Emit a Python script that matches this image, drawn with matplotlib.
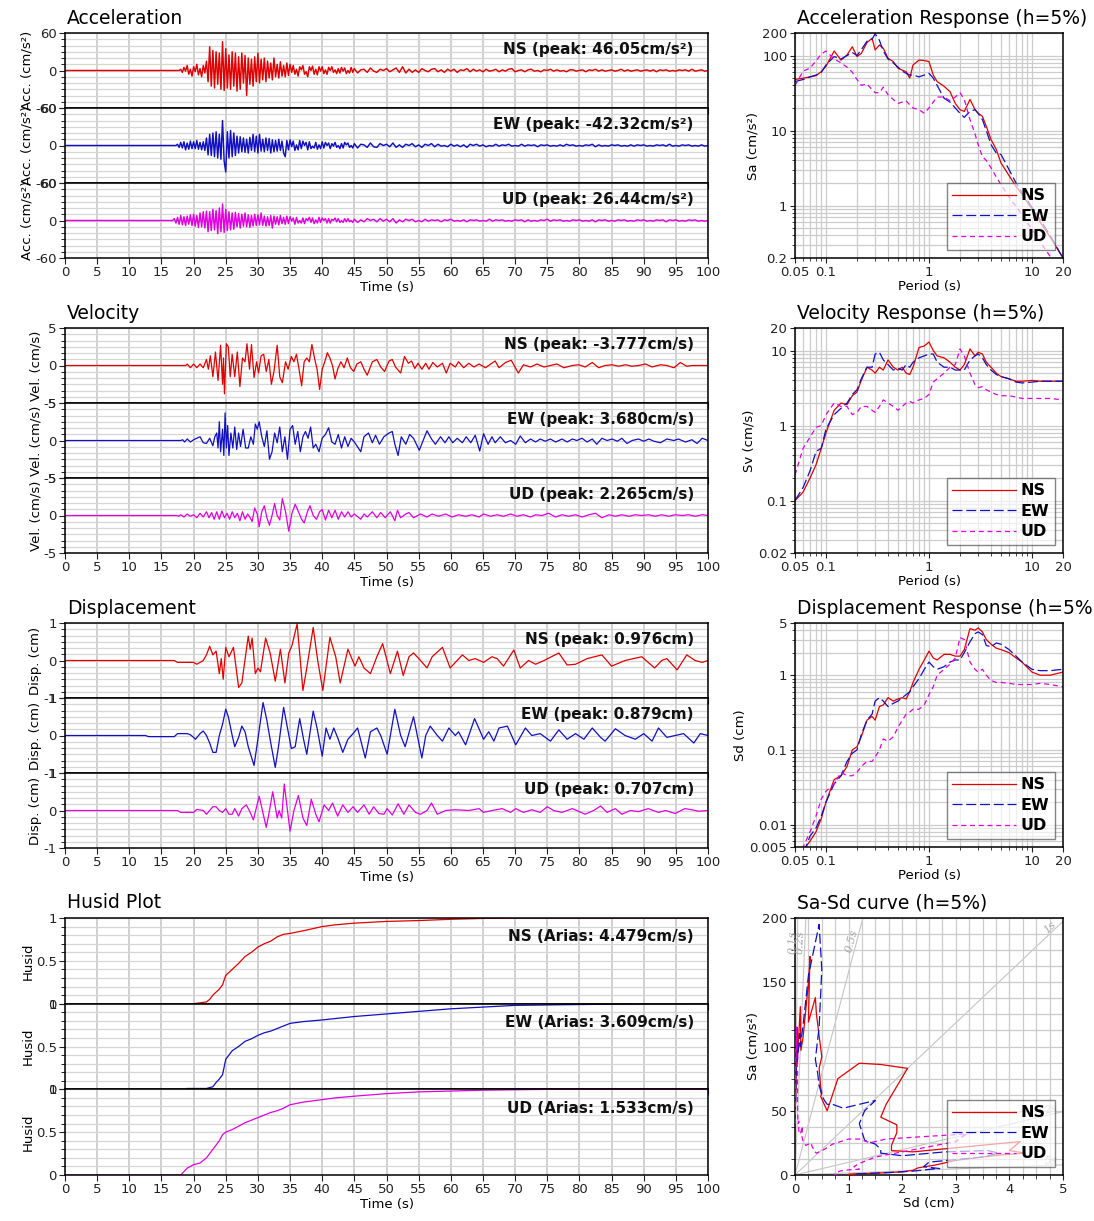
import numpy as np
import matplotlib.pyplot as plt
from matplotlib.ticker import MultipleLocator, NullFormatter

plt.rcParams['font.family'] = ['DejaVu Sans']
plt.rcParams['axes.unicode_minus'] = False

# ---------------------------------------------------------------- data
comp_names = ['NS', 'EW', 'UD']

# acceleration (cm/s2): strong part every 0.25 s from 17 s, coda every 0.5 s from 45 s
acc_ns_strong = [0, 0, 0, 0, 2, -3, 5, -1, 8, -6, 2, -9, 6, -2, 10, -7,
                 3, -10, 8, -4, 15, -18, 38, -25, 32, -28, 30, -22, 28, -30, 46.05, -32,
                 35, -28, 25, -30, 30, -25, 28, -33, 22, -30, 28, -20, 24, -40, 20, -22,
                 18, -25, 22, -18, 28, -20, 18, -15, 20, -18, 15, -12, 12, -15, 20, -10,
                 10, -12, 14, -9, 8, -10, 12, -8, 10, -3, 8, -6, 2, -9, 6, 1,
                 8, -6, -2, -10, 6, 0, 7, -6, 2, -7, 6, -1, 6, -5, 1, -6,
                 5, 0, 6, -3, 1, -5, 3, -4, 5, -1, 4, -5, 0, -4, 5, -3]
acc_ns_coda = [3, -4, 1, 2, -3, 4, -1, -3, 2, 0, 3, -2, 1, 4, -3, 6, -4, 2, -3, 1,
               -3, 3, 0, -2, 2, 3, -2, 1, -3, 2, -1, 2, -3, 1, 0, 3, -2, 2, -1, 1,
               -2, 2, -1, 0, 2, -2, 1, -1, 2, 3, -2, 0, 1, -2, 1, 2, -1, 0, -2, 1,
               0, 2, -1, 1, -1, 0, -2, 1, 1, -1, 0, 1, -2, 1, 0, 2, -1, 1, -1, 0,
               1, -1, 0, 2, -1, 1, -1, 0, 1, -1, 0, 1, -1, 1, -2, 1, 0, 1, -1, 0,
               -1, 1, 0, 1, -1, 2, -1, 0, 1, -1, 0]
acc_ew_strong = [0, 0, 2, -3, 5, -4, 6, -7, 4, -6, 7, -5, 6, -5, 8, -6,
                 5, -7, 6, -8, 12, -15, 18, -16, 20, -18, 22, -20, 18, -22, 40, -25,
                 -42.32, 22, -20, 24, -18, 20, -16, 15, -12, 14, -10, 12, -11, 10, -12, 13,
                 -8, 18, -10, 15, -12, 18, -9, 10, -10, 12, -8, 11, -12, 9, -10, 8,
                 -9, 10, -8, 7, -12, -18, 8, -7, 9, -2, 7, -8, 1, -7, 8, -5,
                 7, 0, 5, -7, 6, -5, -1, -4, 5, -6, 1, -5, 6, -4, 5, 0,
                 4, -5, 3, -1, 5, -3, 0, -5, 3, -4, 5, 1, 4, -3, 0, -4]
acc_ew_coda = [3, -4, 2, 1, -3, 4, -2, -3, 3, 0, 2, -2, 4, -3, 1, -3, 2, 0, 3, -2,
               1, -3, 2, 0, 3, -2, 2, -1, 0, -2, 2, -1, 1, -2, 1, -3, 2, 0, 2, -1,
               1, -2, 0, -1, 2, -1, 1, 0, 2, -1, 0, -1, 2, -1, 1, 0, 1, -2, 1, 0,
               1, -1, 0, -1, 1, -1, 2, 0, 1, -1, 0, -1, 1, 0, 2, -2, 1, -1, 0, -1,
               1, 0, 1, -1, 0, -1, 1, -1, 1, 0, 1, -1, 0, -1, 1, 0, 1, -1, 2, -1,
               0, -1, 1, 0, 1, -1, 0, -1, 1, -1, 0]
acc_ud_strong = [3, -4, 5, -6, 8, -7, 6, -8, 7, -6, 9, -8, 10, -9, 8, -11,
                 12, -10, 14, -12, 15, -18, 14, -16, 18, -15, 16, -21, 20, -18, 26.44, -19,
                 18, -16, 14, -15, 12, -14, 13, -10, 11, -12, 10, -9, 12, -10, 9, -11,
                 8, -9, 10, -8, 9, -7, 12, -8, 7, -9, 6, -8, 8, -12, 7, -6,
                 6, -7, 8, -5, 5, -6, 7, -5, 6, -1, 4, -6, 5, -4, 0, -4,
                 4, -5, 3, 0, 5, -3, 4, -5, 1, -4, 5, -3, 4, 0, 3, -4,
                 3, -4, 2, 0, 4, -2, 3, -3, 0, -3, 3, -2, 3, -2, 0, -3]
acc_ud_coda = [2, -3, 1, -2, 3, 0, 2, -2, 3, -1, 2, -2, 3, -4, 1, -2, 2, 0, 2, -2,
               0, -2, 2, -1, 1, 0, 1, -2, 1, 0, 2, -1, 0, -1, 1, -2, 1, 0, 1, -1,
               0, -1, 2, -1, 1, 0, 1, -1, 0, -1, 1, 0, 1, -2, 1, -1, 0, -1, 1, 0,
               2, -1, 1, 0, 1, -1, 0, -1, 1, 0, 1, -1, 0, -1, 1, -2, 1, 0, 1, -1,
               0, -1, 1, 0, 1, -1, 0, -1, 1, 0, 1, -1, 0, -1, 1, 0, 1, -2, 1, 0,
               1, -1, 0, -1, 1, 0, 1, -1, 0, -1, 0]

# velocity (cm/s) as (time, value) turning points
vel_ns = [(0, 0), (18.8, 0), (19, 0.2), (19.5, -0.3), (20, 0.2), (20.5, -0.3), (21, 0.2), (21.5, -0.3),
          (22, 0.8), (22.3, -0.5), (22.6, 1.3), (23, -1.5), (23.4, 1.8), (23.8, -2.0), (24.2, 2.7),
          (24.5, -2.5), (24.65, 1.0), (24.8, -3.777), (25.1, 2.9), (25.4, 2.5), (25.7, -1.5), (26.0, 1.5),
          (26.4, -1.5), (26.8, 1.8), (27.2, -2.8), (27.6, 1.0), (28.0, 0.5), (28.3, 2.9), (28.7, -0.5),
          (29.0, 2.8), (29.4, -1.6), (29.8, 0.5), (30.1, -1.0), (30.5, 1.3), (30.9, 1.5), (31.3, -0.8),
          (31.7, 0.8), (32.1, -2.5), (32.5, -0.8), (33.0, 2.7), (33.4, -1.5), (33.8, -2.3), (34.3, 0.5),
          (34.7, -0.5), (35.2, 1.2), (35.6, 0.5), (36.0, 1.5), (36.4, -0.5), (36.8, -2.7), (37.2, 0.5),
          (37.6, 1.0), (38.0, 0.5), (38.4, 2.8), (38.8, 1.0), (39.2, -0.5), (39.6, -3.2), (40.0, -0.5),
          (40.4, 0.5), (40.8, 1.7), (41.2, 1.0), (41.6, 0.0), (42.0, -1.8), (42.4, -0.5), (42.9, 0.5),
          (43.4, -0.3), (43.9, 1.0), (44.4, -0.3), (44.9, -0.8), (45.4, 0.2), (46.0, 0.5), (46.5, -0.5),
          (47.0, -1.3), (47.8, 0.5), (48.5, 0.8), (49.1, -0.2), (49.7, -0.8), (50.4, 0.6), (50.9, 0.8),
          (51.4, -0.2), (52.2, -1.0), (52.8, 1.2), (53.4, 0.3), (53.9, 0.6), (54.4, -0.4), (54.9, 0.3),
          (55.5, -0.5), (56.1, 0.3), (56.6, -0.5), (57.2, 0.4), (57.9, -0.2), (58.7, 0.3), (59.3, -1.0),
          (59.9, 0.3), (60.7, -0.2), (61.2, 0.5), (62.0, -0.3), (62.8, 0.3), (63.6, -0.2), (64.4, 0.2),
          (65.4, -0.3), (66.2, 0.2), (66.9, 0.6), (67.5, -0.3), (68.5, 0.4), (69.4, 0.7), (70.5, -1.0),
          (71.3, 0.1), (72.4, -0.2), (73.4, 0.2), (74.5, -0.2), (75.5, 0.0), (76.5, 0.2), (77.6, -0.3),
          (78.9, 0.0), (79.9, 0.1), (80.9, -0.2), (82.0, 0.4), (83.0, -0.3), (84.0, 0.0), (85.1, 0.1),
          (86.1, -0.1), (87.2, 0.1), (88.2, -0.1), (89.2, 0.0), (90.3, 0.2), (91.3, -0.2), (92.6, 0.1),
          (93.6, 0.0), (94.7, -0.3), (95.7, 0.4), (96.7, -0.1), (97.5, 0.0), (100, 0.0)]
vel_ew = [(0, 0), (18, 0), (18.3, 0.1), (18.6, -0.2), (19, 0.2), (19.5, -0.2), (20, 0.1), (20.5, 0.3),
          (21, 0.5), (21.5, -0.3), (22, -0.4), (22.5, 0.3), (23, -0.7), (23.3, 0.5), (23.6, 1.0),
          (23.8, -1.0), (24.0, 2.5), (24.2, -1.5), (24.5, 1.5), (24.7, -2.0), (24.9, 3.68), (25.1, -1.0),
          (25.3, 2.0), (25.5, -2.0), (25.8, 1.0), (26.1, -1.0), (26.4, 1.8), (26.7, -1.2), (27.0, 1.0),
          (27.3, -0.8), (27.7, 1.5), (28.1, -1.0), (28.5, -1.0), (28.9, 0.5), (29.3, -0.5), (29.6, 2.2),
          (29.9, 1.5), (30.2, 2.5), (30.6, 0.5), (31.0, -0.8), (31.4, 1.3), (31.8, -2.5), (32.2, -1.5),
          (32.6, 1.0), (33.0, -0.3), (33.4, 1.8), (33.8, -1.5), (34.2, 0.5), (34.6, -2.5), (35.0, 1.5),
          (35.4, 2.0), (35.8, -0.5), (36.2, 1.2), (36.6, -1.5), (37.0, 0.5), (37.4, 1.2), (37.8, 0.3),
          (38.2, 1.8), (38.6, -1.0), (39.0, -0.5), (39.5, -1.5), (40.0, 0.3), (40.5, 0.8), (41.0, 1.7),
          (41.5, -0.2), (42.0, -0.5), (42.5, 0.8), (43.0, -1.0), (43.5, 0.5), (44.0, -0.8), (44.5, 0.3),
          (45.0, -0.2), (46.0, -1.5), (46.5, 0.5), (47.2, 1.0), (47.8, -0.3), (48.3, 0.7), (48.9, -0.5),
          (49.6, 0.5), (50.4, 1.0), (50.9, 1.2), (51.3, -0.5), (51.8, -2.0), (52.3, 0.5), (53.0, -0.5),
          (53.6, 0.8), (54.2, 0.3), (55.1, -1.3), (55.8, 0.2), (56.3, 1.3), (57.0, 0.2), (57.6, -0.5),
          (58.4, 0.5), (59.1, -0.3), (59.7, 0.5), (60.3, -0.3), (61.0, 0.3), (61.8, -0.3), (62.4, 0.5),
          (63.1, -0.3), (63.8, 0.7), (64.5, -1.4), (65.1, 0.9), (65.8, -0.5), (66.4, 0.5), (66.9, -0.3),
          (67.7, 0.5), (68.5, -0.3), (69.3, 0.0), (70.1, -0.5), (70.8, 0.6), (71.6, -0.3), (72.4, 0.2),
          (73.2, -0.2), (73.9, 0.2), (74.7, -0.1), (75.5, 0.2), (76.3, -0.2), (77.3, 0.2), (78.1, -0.2),
          (78.9, 0.2), (79.6, 0.0), (80.4, 0.3), (81.2, -0.2), (82.0, 0.2), (82.7, -0.5), (83.5, 0.3),
          (84.3, 0.0), (85.1, 0.2), (85.9, -0.1), (86.6, 0.3), (87.4, -0.4), (88.2, 0.0), (89.2, 0.2),
          (90.0, -0.1), (90.8, 0.2), (91.6, -0.1), (92.6, -0.3), (93.6, 0.2), (94.7, 0.0), (95.4, 0.2),
          (96.5, -0.2), (97.5, 0.1), (98.3, -0.4), (99.1, 0.3), (100, 0.0)]
vel_ud = [(0, 0), (17.5, 0), (17.7, -0.1), (18, 0.1), (18.5, -0.2), (19, 0.2), (19.5, -0.1), (20, 0.1),
          (20.5, -0.3), (21, 0.3), (21.5, -0.2), (22, 0.5), (22.4, -0.3), (22.8, 0.4), (23.2, -0.5),
          (23.6, 0.5), (24.0, -0.5), (24.4, 0.6), (24.8, -0.3), (25.2, 0.3), (25.6, -0.5), (26.0, 0.5),
          (26.4, -0.3), (26.8, 0.3), (27.2, -0.7), (27.6, 0.5), (28.0, -0.5), (28.4, 0.2), (28.8, -0.3),
          (29.1, -0.8), (29.5, 1.0), (29.9, 0.2), (30.2, -1.5), (30.6, 0.5), (31.0, 1.3), (31.4, -0.3),
          (31.8, -1.3), (32.2, 0.0), (32.6, 1.6), (33.0, 0.0), (33.4, -0.6), (33.8, 2.265), (34.3, 0.5),
          (34.8, -2.1), (35.3, 0.3), (35.8, 1.5), (36.3, 0.5), (36.8, -0.5), (37.2, -1.0), (37.7, 0.5),
          (38.1, 1.3), (38.6, 0.0), (39.1, -0.5), (39.6, 0.5), (40.0, 0.8), (40.5, -0.6), (41.0, 0.7),
          (41.5, -0.3), (42.0, 0.7), (42.5, -0.5), (43.0, 0.5), (43.5, -0.2), (44.0, 0.5), (44.5, -0.2),
          (45.0, 0.2), (46.0, -0.5), (46.5, 0.2), (47.0, -0.2), (47.8, 0.5), (48.5, -0.3), (49.1, 0.4),
          (49.8, -0.3), (50.6, 0.5), (51.3, -0.7), (51.7, 0.7), (52.2, -0.3), (53.0, 0.2), (53.5, 0.4),
          (54.2, -0.3), (55.3, 0.2), (56.3, -0.2), (57.1, 0.2), (58.1, -0.1), (59.2, 0.2), (60.2, -0.2),
          (61.2, 0.1), (62.3, -0.1), (63.3, 0.1), (64.4, -0.2), (65.1, 0.2), (66.2, -0.1), (67.2, 0.1),
          (68.2, -0.1), (69.3, 0.2), (70.3, -0.1), (71.3, 0.1), (72.4, -0.2), (73.2, 0.1), (74.2, 0.0),
          (75.2, 0.3), (76.3, -0.2), (77.3, 0.1), (78.3, -0.1), (79.4, 0.1), (80.4, -0.2), (81.5, 0.1),
          (82.5, 0.3), (83.5, -0.3), (84.6, 0.1), (85.6, -0.1), (86.6, 0.1), (87.7, -0.1), (88.7, 0.1),
          (89.7, 0.0), (90.8, 0.1), (91.8, -0.1), (92.8, 0.1), (93.9, -0.1), (94.9, 0.1), (96.0, 0.0),
          (97.0, 0.1), (98.0, -0.1), (99.1, 0.1), (100, 0.0)]

# displacement (cm) as (time, value) turning points
disp_ns = [(0, 0), (17, 0), (17.5, -0.05), (20, -0.05), (20.5, -0.1), (21, -0.05), (21.5, 0.0), (22, 0.15),
           (22.5, 0.38), (23, 0.15), (23.5, 0.25), (24, -0.35), (24.3, 0.05), (24.6, -0.5), (25.0, 0.35),
           (25.5, 0.1), (26.2, 0.35), (27.0, -0.72), (27.5, -0.6), (28.5, 0.65), (28.8, 0.3), (29.1, 0.6),
           (29.6, -0.35), (30.0, -0.2), (30.4, -0.3), (31.2, 0.6), (31.9, 0.2), (32.7, -0.55), (33.5, 0.3),
           (34.2, -0.6), (34.8, 0.2), (35.3, 0.4), (36.1, 0.976), (37.0, -0.8), (37.6, -0.2), (38.6, 0.88),
           (39.3, 0.0), (40.1, -0.8), (41.2, 0.62), (42.1, 0.1), (42.8, -0.6), (44.0, 0.3), (45.1, -0.15),
           (45.7, 0.1), (46.5, -0.2), (47.5, -0.35), (48.5, 0.1), (49.4, 0.45), (50.6, -0.35), (51.7, 0.25),
           (52.6, -0.4), (53.5, 0.1), (54.2, 0.2), (55.3, 0.0), (56.3, -0.2), (57.1, 0.1), (58.7, 0.35),
           (59.9, -0.2), (61.8, 0.15), (62.8, 0.0), (63.8, 0.05), (65.1, -0.05), (66.4, 0.1), (67.2, 0.05),
           (68.2, -0.15), (69.8, 0.28), (70.8, -0.2), (72.1, 0.0), (73.2, -0.1), (74.5, 0.0), (76.8, 0.2),
           (78.1, -0.12), (79.4, -0.1), (81.2, 0.05), (83.5, 0.15), (85.0, -0.15), (87.1, 0.0), (89.7, 0.1),
           (91.7, -0.2), (92.8, 0.0), (93.6, 0.05), (95.2, -0.25), (96.7, 0.15), (98.0, 0.0), (99.1, -0.05),
           (100, 0.0)]
disp_ew = [(0, 0), (12.5, 0), (13, -0.03), (17, -0.03), (17.5, 0.05), (19, 0.05), (19.5, 0.02), (20, -0.05),
           (20.3, -0.1), (21, 0.05), (21.5, 0.12), (22, 0.0), (22.5, -0.2), (23, -0.45), (23.5, -0.45),
           (24, 0.0), (24.5, 0.3), (25, 0.7), (25.4, 0.5), (26, 0.0), (26.4, -0.3), (27, -0.05), (27.5, 0.25),
           (28, 0.1), (28.5, -0.3), (29.4, -0.8), (30, -0.1), (30.8, 0.879), (31.4, 0.4), (32, -0.2),
           (32.7, -0.85), (33.2, -0.3), (34.0, 0.75), (34.6, 0.2), (35.2, -0.35), (35.8, -0.3), (36.5, 0.45),
           (37.1, -0.1), (37.6, -0.5), (38.6, 0.65), (39.2, 0.2), (40.0, -0.55), (40.6, 0.2), (41.2, -0.1),
           (41.8, 0.2), (42.5, -0.1), (43.2, -0.45), (44, -0.1), (44.8, 0.05), (45.5, 0.2), (46.7, -0.6),
           (47.5, 0.1), (48.5, 0.2), (49.1, 0.0), (50.1, -0.5), (51.3, 0.7), (52.2, 0.0), (52.9, -0.3),
           (54.2, 0.5), (55.5, -0.6), (56.1, 0.0), (56.8, 0.25), (57.9, 0.0), (58.7, -0.15), (59.7, 0.2),
           (60.7, 0.0), (61.2, 0.1), (62.3, -0.25), (63.7, 0.45), (65.1, -0.1), (65.9, 0.1), (66.7, -0.15),
           (67.5, 0.2), (68.8, 0.25), (70.1, -0.25), (71.6, 0.2), (72.6, 0.0), (73.9, 0.05), (75.5, -0.15),
           (76.8, 0.15), (78.1, -0.1), (79.4, 0.05), (80.7, -0.1), (82.0, 0.2), (83.3, -0.05), (84.0, -0.15),
           (85.6, 0.18), (87.1, 0.0), (88.7, -0.1), (90.0, 0.05), (91.3, -0.15), (92.3, 0.2), (93.6, -0.05),
           (94.9, 0.0), (96.2, 0.05), (97.8, -0.2), (98.8, 0.05), (100, 0.0)]
disp_ud = [(0, 0), (17.5, 0), (18, -0.05), (20, -0.05), (20.5, 0.03), (21.5, 0.0), (22, -0.1), (22.5, 0.0),
           (23, 0.1), (23.5, 0.1), (24, 0.0), (24.5, -0.05), (25, 0.05), (25.5, -0.1), (26, -0.1), (26.4, 0.05),
           (27, -0.15), (27.5, 0.05), (28.2, 0.15), (28.8, -0.05), (29.3, -0.25), (29.8, 0.1), (30.2, 0.38),
           (30.7, 0.0), (31.3, -0.45), (31.8, 0.0), (32.3, 0.5), (33.0, -0.2), (33.3, 0.0), (33.7, -0.2),
           (34.1, 0.707), (34.6, 0.0), (35.0, -0.55), (35.6, 0.0), (36.3, 0.4), (37.0, -0.2), (37.6, -0.4),
           (38.3, 0.3), (39.0, -0.1), (39.5, -0.3), (40.3, 0.15), (41.0, 0.0), (41.6, 0.2), (42.4, -0.15),
           (43.2, 0.15), (44.0, -0.05), (44.8, 0.1), (45.5, -0.05), (46.5, 0.15), (47.3, -0.1), (48.0, 0.1),
           (48.8, -0.08), (49.6, -0.1), (50.1, 0.05), (50.9, -0.12), (51.8, 0.18), (52.7, -0.1), (53.5, 0.15),
           (54.5, -0.05), (55.3, -0.1), (56.3, 0.0), (57.0, 0.2), (57.9, -0.1), (59.2, 0.0), (60.7, 0.02),
           (62.8, 0.0), (64.4, 0.05), (65.1, -0.05), (66.4, 0.0), (68.0, 0.05), (69.3, -0.05), (70.1, 0.05),
           (71.3, -0.05), (72.6, 0.02), (73.9, -0.05), (75.0, 0.1), (76.0, 0.0), (77.3, -0.05), (78.9, 0.05),
           (79.6, 0.0), (80.9, -0.1), (82.2, 0.0), (83.3, 0.12), (84.3, -0.05), (85.6, 0.05), (86.6, -0.1),
           (87.9, 0.0), (89.2, -0.03), (90.7, 0.05), (92.3, -0.05), (93.4, 0.0), (94.9, -0.08), (96.4, 0.05),
           (97.5, 0.02), (98.5, -0.02), (100, 0.0)]

# normalised cumulative Arias intensity (Husid)
husid_ns = [(20, 0.0), (22, 0.02), (22.5, 0.05), (23, 0.1), (24, 0.17), (24.5, 0.22), (25, 0.33),
            (26, 0.4), (27, 0.47), (28, 0.55), (29, 0.6), (30, 0.66), (31, 0.7), (32, 0.73), (33, 0.78),
            (34, 0.81), (35, 0.82), (37, 0.85), (40, 0.9), (42, 0.92), (45, 0.94), (50, 0.96), (55, 0.97),
            (60, 0.985), (65, 0.995), (70, 1.0), (100, 1.0)]
husid_ew = [(19, 0.01), (22, 0.01), (23, 0.03), (23.5, 0.08), (24, 0.12), (24.5, 0.17), (25, 0.35),
            (26, 0.45), (27, 0.5), (28, 0.56), (29, 0.59), (30, 0.63), (31, 0.66), (32, 0.68), (33, 0.71),
            (34, 0.74), (35, 0.77), (37, 0.79), (40, 0.81), (45, 0.85), (50, 0.88), (55, 0.91), (60, 0.94),
            (65, 0.96), (70, 0.98), (80, 0.99), (90, 0.998), (100, 1.0)]
husid_ud = [(0, 0.0), (18, 0.0), (19, 0.08), (20, 0.12), (21, 0.14), (22, 0.2), (23, 0.3), (24, 0.4),
            (24.5, 0.47), (25, 0.5), (26, 0.53), (27, 0.57), (28, 0.61), (29, 0.64), (30, 0.67), (31, 0.7),
            (32, 0.73), (33, 0.75), (34, 0.78), (35, 0.82), (37, 0.85), (40, 0.88), (42, 0.9), (45, 0.92),
            (50, 0.95), (55, 0.97), (60, 0.98), (65, 0.99), (75, 1.0), (100, 1.0)]
arias = [4.479, 3.609, 1.533]

# response spectra, h = 5 %
periods = [0.05, 0.06, 0.07, 0.08, 0.09, 0.1, 0.12, 0.14, 0.16, 0.18, 0.2, 0.22, 0.25, 0.28, 0.3,
           0.33, 0.36, 0.4, 0.45, 0.5, 0.55, 0.6, 0.65, 0.7, 0.8, 0.9, 1.0, 1.1, 1.2, 1.4,
           1.6, 1.8, 2.0, 2.2, 2.5, 2.8, 3.0, 3.3, 3.6, 4.0, 4.5, 5.0, 6, 7, 8, 10, 12, 15, 20]
sa_ns = [48, 50, 52, 54, 61, 72, 115, 87, 102, 131, 97, 107, 149, 170, 119,
         138, 125, 92, 83, 68, 64, 61, 50, 75, 87, 86, 83, 55, 45, 39,
         33, 23, 19, 18, 26, 19, 17, 15.5, 11.4, 7.6, 5.6, 3.7, 2.5, 1.8, 1.4, 0.9, 0.6, 0.38, 0.2]
sa_ew = [45, 48, 52, 55, 60, 75, 97, 90, 100, 110, 100, 120, 155, 165, 195,
         160, 115, 90, 80, 70, 62, 58, 55, 55, 52, 55, 58, 50, 40, 27,
         24, 20, 17, 15, 18, 19, 17, 14, 10, 6.5, 5.0, 4.8, 3.0, 2.0, 1.5, 0.95, 0.65, 0.4, 0.2]
sa_ud = [40, 62, 68, 85, 105, 115, 90, 80, 70, 60, 48, 40, 42, 35, 32,
         32, 38, 30, 26, 23, 24, 25, 22, 20, 19, 17, 20, 24, 28, 28,
         25, 28, 32, 26, 14, 9, 6.5, 4.5, 4.0, 3.2, 2.4, 1.9, 1.3, 0.97, 0.75, 0.48, 0.33, 0.21, 0.12]
sv_ns = [0.1, 0.13, 0.2, 0.3, 0.5, 0.8, 1.6, 2.0, 1.9, 2.5, 2.8, 4.0, 6.0, 5.5, 5.0,
         6.0, 5.5, 7.5, 6.0, 5.5, 6.0, 5.0, 4.8, 6.0, 11, 11.5, 13, 10, 8.5, 8.0,
         7.0, 6.0, 5.5, 6.5, 10.5, 8.5, 9.5, 9.0, 7.0, 6.0, 5.0, 4.5, 4.2, 3.9, 3.9, 4.0, 3.9, 3.9, 3.9]
sv_ew = [0.1, 0.15, 0.25, 0.45, 0.5, 0.9, 1.4, 1.7, 2.0, 2.6, 3.0, 4.2, 6.0, 6.0, 9.0,
         9.5, 7.5, 6.5, 5.5, 5.8, 5.5, 6.5, 6.0, 7.0, 8.0, 8.5, 9.0, 9.0, 7.0, 6.0,
         6.0, 5.5, 5.5, 5.5, 7.5, 8.5, 9.0, 8.0, 6.5, 5.5, 4.8, 4.5, 4.2, 3.8, 3.7, 3.8, 3.9, 3.9, 3.9]
sv_ud = [0.22, 0.5, 0.7, 0.95, 1.0, 1.4, 2.0, 1.8, 1.8, 1.4, 1.5, 1.8, 1.8, 1.6, 1.5,
         1.8, 2.2, 2.0, 1.8, 1.6, 1.8, 2.0, 2.1, 2.0, 2.2, 2.3, 2.6, 3.8, 4.2, 5.0,
         6.0, 6.5, 10.5, 8.5, 5.0, 3.5, 3.2, 3.3, 3.0, 2.8, 2.6, 2.5, 2.5, 2.4, 2.3, 2.3, 2.3, 2.3, 2.2]
sd_ns = [0.003, 0.0045, 0.006, 0.008, 0.012, 0.02, 0.04, 0.045, 0.06, 0.1, 0.11, 0.15, 0.25, 0.28, 0.25,
         0.38, 0.4, 0.5, 0.45, 0.48, 0.5, 0.48, 0.6, 0.8, 1.2, 1.6, 2.1, 1.7, 1.6, 1.9,
         1.9, 1.8, 1.8, 2.2, 4.2, 4.0, 4.3, 3.8, 3.0, 2.6, 2.3, 2.2, 2.0, 1.7, 1.5, 1.1, 1.0, 1.0, 1.1]
sd_ew = [0.003, 0.004, 0.007, 0.009, 0.013, 0.02, 0.035, 0.045, 0.07, 0.09, 0.1, 0.16, 0.25, 0.3, 0.45,
         0.5, 0.45, 0.38, 0.42, 0.45, 0.5, 0.55, 0.6, 0.7, 0.9, 1.2, 1.5, 1.3, 1.2, 1.3,
         1.5, 1.6, 1.6, 2.0, 2.8, 3.6, 3.8, 3.5, 2.5, 2.4, 2.7, 2.6, 2.2, 1.8, 1.5, 1.2, 1.15, 1.15, 1.2]
sd_ud = [0.004, 0.005, 0.008, 0.013, 0.022, 0.028, 0.035, 0.05, 0.045, 0.045, 0.05, 0.06, 0.07, 0.07, 0.08,
         0.1, 0.14, 0.13, 0.15, 0.2, 0.25, 0.3, 0.32, 0.35, 0.35, 0.4, 0.55, 0.7, 1.0, 1.2,
         1.4, 1.7, 3.2, 3.0, 1.5, 1.2, 1.1, 1.2, 1.0, 0.85, 0.8, 0.8, 0.78, 0.75, 0.75, 0.75, 0.78, 0.75, 0.7]

# constant-period guide lines on the Sa-Sd plane
guide_periods = [0.1, 0.2, 0.5, 1, 2, 5]

# ---------------------------------------------------------------- styling
comp_colors = ['#e00000', '#1010c0', '#e000e0']
comp_styles = ['-', (0, (8, 3)), (0, (4, 3))]

W, H = 1094, 1221
fig = plt.figure(figsize=(W / 100, H / 100), dpi=100)


def px_axes(left, top, right, bottom):
    return fig.add_axes([left / W, 1 - bottom / H, (right - left) / W, (bottom - top) / H])


def panel_title(x, y, text):
    fig.text(x / W, 1 - y / H, text, fontsize=13.5, ha='left', va='center')


def sampled_trace(strong, coda):
    # quiet record up to 16.75 s, then the sampled strong motion and coda
    t = [0.0, 16.75] + [17 + 0.25 * k for k in range(len(strong))] + [45 + 0.5 * k for k in range(len(coda))]
    return list(zip(t, [0.0, 0.0] + strong + coda))


def peak_of(pts):
    v = np.asarray(pts, float)[:, 1]
    return v[np.argmax(np.abs(v))]


def history_panel(top, bottom, title, ylabel, ylim, yticks, yticklabels, minor, traces, notes, lw=0.9):
    band = (bottom - top) / 3
    for i, (pts, note) in enumerate(zip(traces, notes)):
        ax = px_axes(65, top + i * band, 708, top + (i + 1) * band)
        t, v = np.asarray(pts, float).T
        ax.plot(t, v, color=comp_colors[i], lw=lw)
        ax.set_xlim(0, 100)
        ax.set_ylim(*ylim)
        ax.xaxis.set_major_locator(MultipleLocator(5))
        ax.set_yticks(yticks)
        ax.set_yticklabels(yticklabels)
        ax.yaxis.set_minor_locator(MultipleLocator(minor))
        ax.grid(True, which='major', axis='x', color='#cdcdcd', lw=1.3)
        ax.grid(True, which='both', axis='y', color='#d6d6d6', lw=0.9)
        ax.tick_params(direction='out', length=4, labelsize=9.5, pad=2, colors='#222222')
        ax.tick_params(which='minor', direction='out', length=3)
        ax.set_ylabel(ylabel, fontsize=9.5, labelpad=1)
        ax.text(0.978, 0.78, note, transform=ax.transAxes, ha='right', va='center',
                fontsize=11, fontweight='bold', color='#111111')
        for s in ax.spines.values():
            s.set_linewidth(1.1)
        if i < 2:
            ax.tick_params(labelbottom=False)
        else:
            ax.set_xlabel('Time (s)', fontsize=9.5, labelpad=1)
    panel_title(67, top - 15, title)


def style_legend(ax):
    leg = ax.legend(loc='lower right', handlelength=4.0, prop={'weight': 'bold', 'size': 11.5},
                    fancybox=False, framealpha=0.65, edgecolor='#444444', borderpad=0.35,
                    labelspacing=0.35, handletextpad=0.3, borderaxespad=0.5)
    leg.get_frame().set_linewidth(1.0)


def spectrum_panel(top, bottom, title, ylabel, curves, ylim, yticks, yticklabels):
    ax = px_axes(795, top, 1063, bottom)
    for vals, name, c, ls in zip(curves, comp_names, comp_colors, comp_styles):
        ax.plot(periods, vals, color=c, ls=ls, lw=0.9, label=name)
    ax.set_xscale('log')
    ax.set_yscale('log')
    ax.set_xlim(0.05, 20)
    ax.set_ylim(*ylim)
    ax.set_xticks([0.05, 0.1, 1, 10, 20])
    ax.set_xticklabels(['0.05', '0.1', '1', '10', '20'])
    ax.set_yticks(yticks)
    ax.set_yticklabels(yticklabels)
    ax.xaxis.set_minor_formatter(NullFormatter())
    ax.yaxis.set_minor_formatter(NullFormatter())
    ax.grid(True, which='both', color='#cccccc', lw=0.9)
    ax.tick_params(which='both', direction='out', labelsize=9.5, pad=2, colors='#222222')
    ax.set_xlabel('Period (s)', fontsize=9.5, labelpad=1)
    ax.set_ylabel(ylabel, fontsize=9.5, labelpad=2)
    for s in ax.spines.values():
        s.set_linewidth(1.1)
    style_legend(ax)
    panel_title(797, top - 15, title)


# ---------------------------------------------------------------- time histories
acc = [sampled_trace(acc_ns_strong, acc_ns_coda),
       sampled_trace(acc_ew_strong, acc_ew_coda),
       sampled_trace(acc_ud_strong, acc_ud_coda)]
vel = [vel_ns, vel_ew, vel_ud]
disp = [disp_ns, disp_ew, disp_ud]
husid = [husid_ns, husid_ew, husid_ud]

history_panel(33, 258, 'Acceleration', 'Acc. (cm/s²)', (-60, 60), [-60, 0, 60], ['-60', '0', '60'], 10, acc,
              [f'{n} (peak: {peak_of(p):.2f}cm/s²)' for n, p in zip(comp_names, acc)], lw=1.05)
history_panel(328, 553, 'Velocity', 'Vel. (cm/s)', (-5, 5), [-5, 0, 5], ['-5', '0', '5'], 5 / 6, vel,
              [f'{n} (peak: {peak_of(p):.3f}cm/s)' for n, p in zip(comp_names, vel)])
history_panel(623, 848, 'Displacement', 'Disp. (cm)', (-1, 1), [-1, 0, 1], ['-1', '0', '1'], 1 / 6, disp,
              [f'{n} (peak: {peak_of(p):.3f}cm)' for n, p in zip(comp_names, disp)])
history_panel(918, 1175, 'Husid Plot', 'Husid', (0, 1), [0, 0.5, 1], ['0', '0.5', '1'], 0.1, husid,
              [f'{n} (Arias: {a:.3f}cm/s)' for n, a in zip(comp_names, arias)])

# ---------------------------------------------------------------- spectra
spectrum_panel(33, 258, 'Acceleration Response (h=5%)', 'Sa (cm/s²)', [sa_ns, sa_ew, sa_ud],
               (0.2, 200), [0.2, 1, 10, 100, 200], ['0.2', '1', '10', '100', '200'])
spectrum_panel(328, 553, 'Velocity Response (h=5%)', 'Sv (cm/s)', [sv_ns, sv_ew, sv_ud],
               (0.02, 20), [0.02, 0.1, 1, 10, 20], ['0.02', '0.1', '1', '10', '20'])
spectrum_panel(623, 847, 'Displacement Response (h=5%)', 'Sd (cm)', [sd_ns, sd_ew, sd_ud],
               (0.005, 5), [0.005, 0.01, 0.1, 1, 5], ['0.005', '0.01', '0.1', '1', '5'])

# ---------------------------------------------------------------- Sa-Sd plane
ax = px_axes(795, 918, 1063, 1175)
ax.set_xlim(0, 5)
ax.set_ylim(0, 200)
for T in guide_periods:
    k = (2 * np.pi / T) ** 2
    ax.plot([0, 5], [0, 5 * k], color='#c4c4c4', lw=0.8, zorder=1)
    p0 = ax.transData.transform((0, 0))
    p1 = ax.transData.transform((1, k))
    ang = np.degrees(np.arctan2(p1[1] - p0[1], p1[0] - p0[0]))
    if 5 * k > 200:
        xl, yl = 190 / k, 190
    else:
        xl, yl = 4.9, 4.9 * k
    ax.text(xl, yl, f'{T:g}s', rotation=ang, rotation_mode='anchor', ha='right', va='bottom',
            fontsize=8, color='#a8a8a8', family='DejaVu Serif', style='italic')
for sd, sa, name, c, ls in zip([sd_ns, sd_ew, sd_ud], [sa_ns, sa_ew, sa_ud], comp_names, comp_colors, comp_styles):
    ax.plot(sd, sa, color=c, ls=ls, lw=0.9, label=name, zorder=3)
ax.xaxis.set_major_locator(MultipleLocator(1))
ax.xaxis.set_minor_locator(MultipleLocator(0.25))
ax.yaxis.set_major_locator(MultipleLocator(50))
ax.yaxis.set_minor_locator(MultipleLocator(12.5))
ax.grid(True, which='both', color='#cccccc', lw=0.9)
ax.tick_params(which='both', direction='out', labelsize=9.5, pad=2, colors='#222222')
ax.tick_params(which='minor', length=3)
ax.set_xlabel('Sd (cm)', fontsize=9.5, labelpad=1)
ax.set_ylabel('Sa (cm/s²)', fontsize=9.5, labelpad=2)
for s in ax.spines.values():
    s.set_linewidth(1.1)
style_legend(ax)
panel_title(797, 903, 'Sa-Sd curve (h=5%)')

fig.savefig('out.png', dpi=100)
